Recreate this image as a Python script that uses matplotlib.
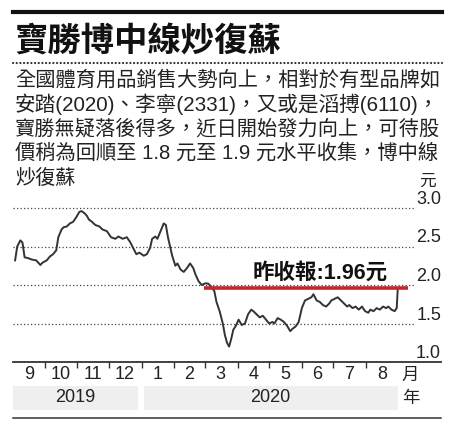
import numpy as np
import matplotlib
matplotlib.use('Agg')
import matplotlib.pyplot as plt
from matplotlib.lines import Line2D
import matplotlib.transforms as mtransforms

plt.rcParams['font.family'] = ['Liberation Sans', 'Noto Sans CJK TC', 'DejaVu Sans']

# ---- data ----
title = '寶勝博中線炒復蘇'
body_lines = ['全國體育用品銷售大勢向上，相對於有型品牌如',
              '安踏(2020)、李寧(2331)，又或是滔搏(6110)，',
              '寶勝無疑落後得多，近日開始發力向上，可待股',
              '價稍為回順至 1.8 元至 1.9 元水平收集，博中線',
              '炒復蘇']

start_date = '2019-09-01'
day_offsets = [2, 4, 7, 9, 10, 11, 14, 18, 22, 26, 28, 32, 35, 38, 41, 43, 46, 48,
               51, 54, 57, 60, 63, 65, 68, 70, 72, 75, 78, 82, 85, 89, 93, 97, 100,
               104, 108, 111, 114, 117, 120, 124, 127, 130, 132, 135, 137, 140, 143,
               145, 147, 149, 151, 154, 156, 159, 162, 165, 168, 171, 173, 176, 179,
               182, 185, 188, 191, 193, 196, 199, 201, 203, 205, 207, 209, 211, 214,
               217, 220, 223, 226, 228, 231, 234, 237, 240, 243, 246, 248, 251, 254,
               257, 260, 263, 265, 268, 271, 274, 277, 280, 283, 285, 288, 291, 294,
               297, 300, 302, 305, 308, 311, 314, 317, 319, 322, 325, 328, 331, 334,
               337, 339, 342, 345, 348, 351, 354, 356, 359, 362, 364, 365]
closes = [2.32, 2.50, 2.58, 2.55, 2.45, 2.36, 2.35, 2.33, 2.32, 2.26, 2.29, 2.32,
          2.37, 2.40, 2.45, 2.62, 2.72, 2.75, 2.76, 2.80, 2.82, 2.88, 2.95, 2.96,
          2.93, 2.90, 2.85, 2.82, 2.78, 2.76, 2.72, 2.70, 2.62, 2.60, 2.63, 2.60,
          2.62, 2.56, 2.48, 2.40, 2.42, 2.38, 2.40, 2.48, 2.60, 2.63, 2.60, 2.70,
          2.80, 2.78, 2.62, 2.50, 2.38, 2.25, 2.28, 2.20, 2.17, 2.22, 2.28, 2.22,
          2.14, 2.05, 2.00, 2.02, 2.02, 1.98, 1.92, 1.78, 1.66, 1.50, 1.35, 1.25,
          1.20, 1.30, 1.42, 1.46, 1.55, 1.48, 1.50, 1.62, 1.68, 1.66, 1.62, 1.58,
          1.60, 1.55, 1.50, 1.52, 1.50, 1.57, 1.55, 1.52, 1.47, 1.40, 1.43, 1.46,
          1.52, 1.70, 1.80, 1.82, 1.84, 1.88, 1.80, 1.78, 1.74, 1.72, 1.76, 1.80,
          1.82, 1.84, 1.80, 1.76, 1.72, 1.74, 1.70, 1.72, 1.68, 1.72, 1.66, 1.64,
          1.68, 1.66, 1.70, 1.68, 1.72, 1.70, 1.72, 1.68, 1.66, 1.70, 1.96]
last_close = 1.96
close_label = '昨收報:1.96元'

y_ticks = [1.0, 1.5, 2.0, 2.5, 3.0]
y_tick_labels = ['1.0', '1.5', '2.0', '2.5', '3.0']
month_labels = ['9', '10', '11', '12', '1', '2', '3', '4', '5', '6', '7', '8']
years = ['2019', '2020']
year_starts = ['2019-09-01', '2020-01-03']
year_ends = ['2019-12-29', '2020-08-31']

# ---- figure ----
W, H = 453, 430
fig = plt.figure(figsize=(W / 100, H / 100), dpi=100)
fig.patch.set_facecolor('white')

def fx(px):
    return px / W

def fy(py):
    return 1 - py / H

dark = '#222222'
cjk = ['Noto Sans CJK TC', 'DejaVu Sans']

# top bar, title, dotted rule
fig.add_artist(Line2D([fx(13), fx(442)], [fy(12), fy(12)], lw=3, color='#111111'))
fig.text(fx(14), fy(42), title, fontsize=24, weight='bold', color='#111111',
         va='center', family=cjk)
fig.add_artist(Line2D([fx(13), fx(442)], [fy(63), fy(63)], lw=1.6, color='#333333',
                      linestyle=(0, (0.05, 1.6)), dash_capstyle='round'))

# body text, first four lines stretched to the column width
renderer = fig.canvas.get_renderer()
line_y = [80, 104.5, 128.5, 152.5, 178]
target_w = 424
for i, line in enumerate(body_lines):
    t = fig.text(fx(15), fy(line_y[i]), line, fontsize=14.5, color=dark, va='center')
    if i < 4:
        w = t.get_window_extent(renderer).width
        t.set_fontsize(14.5 * target_w / w)

fig.text(fx(428), fy(181), '元', fontsize=12, color=dark, ha='center', va='center')

# chart axes
start = np.datetime64(start_date)
dates = start + np.array(day_offsets).astype('timedelta64[D]')
x0 = start
x1 = start + np.timedelta64(406, 'D')

ax = fig.add_axes([fx(13), fy(362), fx(441) - fx(13), fy(185) - fy(362)])
ax.set_xlim(x0, x1)
ax.set_ylim(1.0, 1.0 + 177 / 77)
for s in ['top', 'left', 'right']:
    ax.spines[s].set_visible(False)
ax.spines['bottom'].set_linewidth(1.3)
ax.spines['bottom'].set_color('#333333')

ax.hlines(y_ticks[1:], x0, start + np.timedelta64(380, 'D'), colors='#444444',
          linestyles=(0, (1, 1.8)), lw=0.9)
ax.plot(dates, closes, color='#333333', lw=1.4)
ax.hlines(last_close, start + np.timedelta64(181, 'D'), start + np.timedelta64(375, 'D'),
          colors='#c4262e', lw=2.6)
fig.text(fx(388), fy(273), close_label, fontsize=15.5, weight='bold', color='#111111',
         ha='right', va='center')

trans = mtransforms.blended_transform_factory(ax.transAxes, ax.transData)
for v, lab in zip(y_ticks, y_tick_labels):
    ax.text(1.0, v, lab, transform=trans, ha='right', va='bottom', fontsize=13,
            color=dark)

months = np.arange(np.datetime64('2019-09'), np.datetime64('2020-10'),
                   dtype='datetime64[M]').astype('datetime64[D]')
mids = months[:-1] + (months[1:] - months[:-1]) / 2
ax.set_xticks(months[1:-1])
ax.set_xticklabels([])
ax.tick_params(axis='x', which='major', length=4, width=1, color='#333333', direction='out')
ax.set_xticks(mids, minor=True)
ax.set_xticklabels(month_labels, minor=True)
ax.tick_params(axis='x', which='minor', length=0, pad=3, labelsize=13, labelcolor=dark)
ax.set_yticks([])

xt = mtransforms.blended_transform_factory(ax.transData, fig.transFigure)
ax.text(start + np.timedelta64(377, 'D'), fy(375), '月', transform=xt, ha='center',
        va='center', fontsize=12.5, color=dark, clip_on=False)

# year band
bx = fig.add_axes([fx(13), fy(410), fx(441) - fx(13), fy(386) - fy(410)])
bx.set_xlim(x0, x1)
bx.set_ylim(0, 1)
bx.axis('off')
for yr, a, b in zip(years, year_starts, year_ends):
    a = np.datetime64(a)
    b = np.datetime64(b)
    bx.axvspan(a, b, color='#efefef', lw=0)
    bx.text(a + (b - a) / 2, 0.5, yr, ha='center', va='center', fontsize=13, color=dark)
bx.text(start + np.timedelta64(377, 'D'), 0.5, '年', ha='center', va='center',
        fontsize=12.5, color=dark, clip_on=False)

fig.add_artist(Line2D([fx(13), fx(441)], [fy(418), fy(418)], lw=1.1, color='#333333'))

fig.savefig('out.png', dpi=100, facecolor='white')
